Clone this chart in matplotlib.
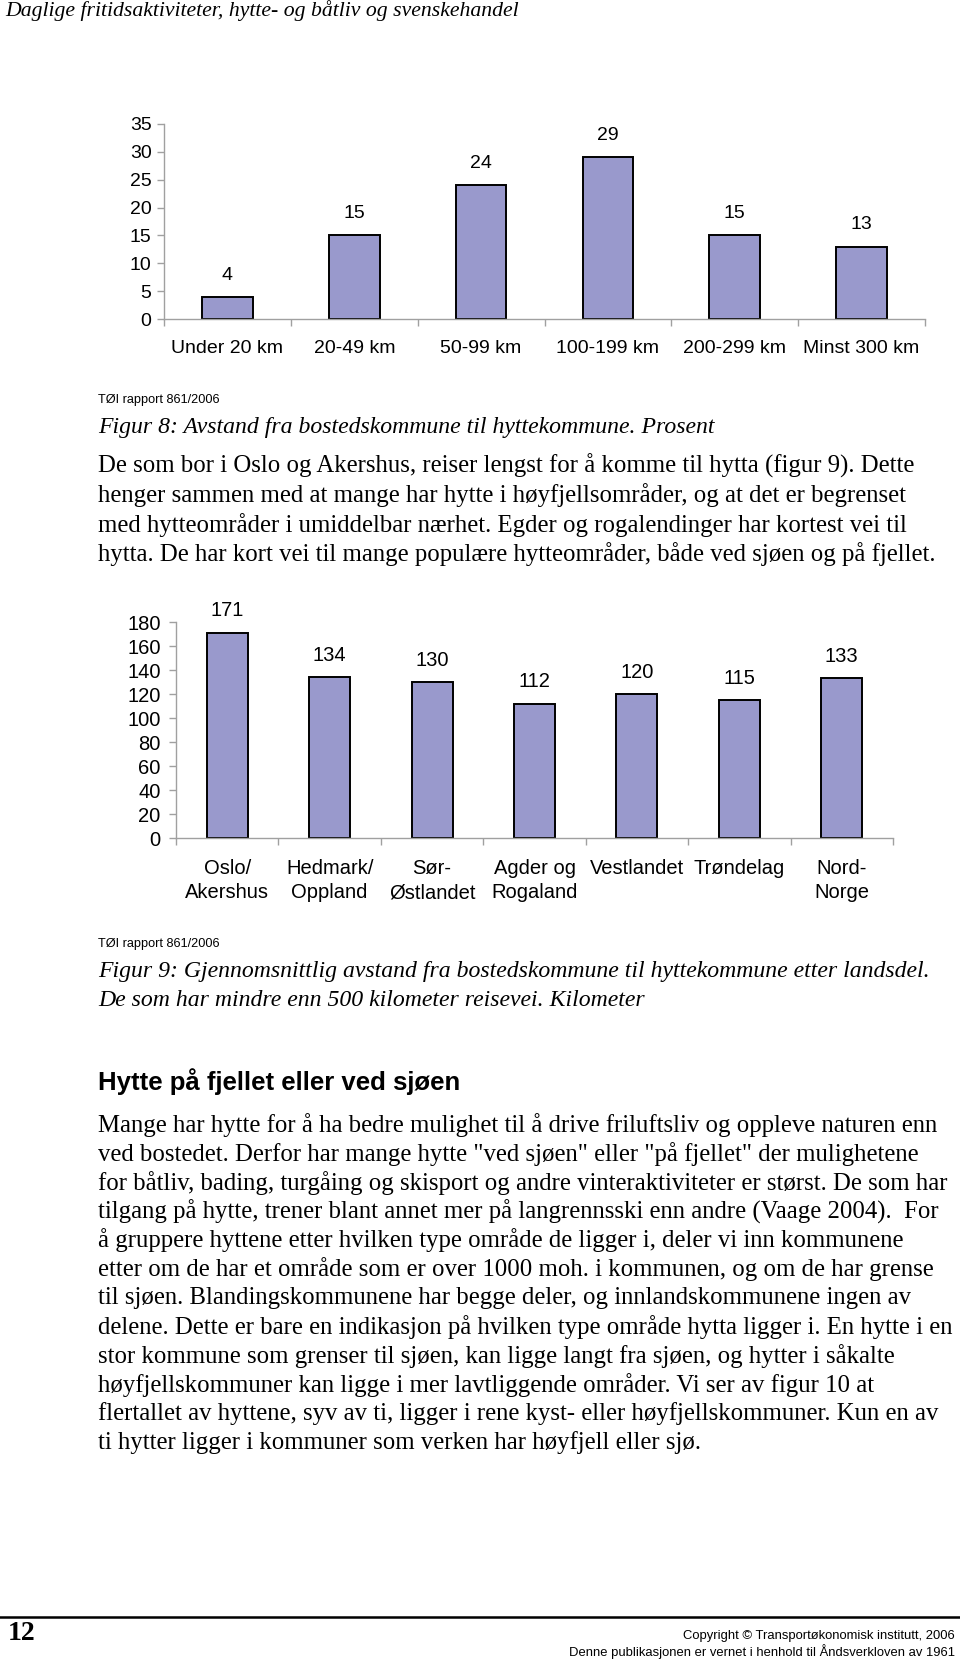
import numpy as np
import matplotlib as mpl
import matplotlib.pyplot as plt
from matplotlib.lines import Line2D

mpl.use('agg')

W, H = 960, 1659

dist_labels = ["Under 20 km", "20-49 km", "50-99 km", "100-199 km", "200-299 km", "Minst 300 km"]
dist_values = [4, 15, 24, 29, 15, 13]

region_labels = ["Oslo/\nAkershus", "Hedmark/\nOppland", "Sør-\nØstlandet", "Agder og\nRogaland",
                 "Vestlandet", "Trøndelag", "Nord-\nNorge"]
region_values = [171, 134, 130, 112, 120, 115, 133]

header = "Daglige fritidsaktiviteter, hytte- og båtliv og svenskehandel"
source = "TØI rapport 861/2006"
fig8_caption = "Figur 8: Avstand fra bostedskommune til hyttekommune. Prosent"
fig9_caption = ["Figur 9: Gjennomsnittlig avstand fra bostedskommune til hyttekommune etter landsdel.",
                "De som har mindre enn 500 kilometer reisevei. Kilometer"]
heading = "Hytte på fjellet eller ved sjøen"

para1 = [
    "De som bor i Oslo og Akershus, reiser lengst for å komme til hytta (figur 9). Dette",
    "henger sammen med at mange har hytte i høyfjellsområder, og at det er begrenset",
    "med hytteområder i umiddelbar nærhet. Egder og rogalendinger har kortest vei til",
    "hytta. De har kort vei til mange populære hytteområder, både ved sjøen og på fjellet.",
]
para2 = [
    "Mange har hytte for å ha bedre mulighet til å drive friluftsliv og oppleve naturen enn",
    'ved bostedet. Derfor har mange hytte "ved sjøen" eller "på fjellet" der mulighetene',
    "for båtliv, bading, turgåing og skisport og andre vinteraktiviteter er størst. De som har",
    "tilgang på hytte, trener blant annet mer på langrennsski enn andre (Vaage 2004).  For",
    "å gruppere hyttene etter hvilken type område de ligger i, deler vi inn kommunene",
    "etter om de har et område som er over 1000 moh. i kommunen, og om de har grense",
    "til sjøen. Blandingskommunene har begge deler, og innlandskommunene ingen av",
    "delene. Dette er bare en indikasjon på hvilken type område hytta ligger i. En hytte i en",
    "stor kommune som grenser til sjøen, kan ligge langt fra sjøen, og hytter i såkalte",
    "høyfjellskommuner kan ligge i mer lavtliggende områder. Vi ser av figur 10 at",
    "flertallet av hyttene, syv av ti, ligger i rene kyst- eller høyfjellskommuner. Kun en av",
    "ti hytter ligger i kommuner som verken har høyfjell eller sjø.",
]
page_no = "12"
copyright_lines = ["Copyright © Transportøkonomisk institutt, 2006",
                   "Denne publikasjonen er vernet i henhold til Åndsverkloven av 1961"]

SANS = ['Liberation Sans', 'DejaVu Sans']
SERIF = ['Liberation Serif', 'DejaVu Serif']
BAR = '#9999cc'
AXC = '#a0a0a0'
BODY = 17.8


def fx(px):
    return px / W


def fy(px):
    return 1 - px / H


def bar_chart(rect, labels, values, ymax, ystep, fs, ypad, padding, xpad, lsp):
    left, top, right, bottom = rect
    ax = fig.add_axes([fx(left), fy(bottom), fx(right - left), (bottom - top) / H])
    x = np.arange(len(values))
    bars = ax.bar(x, values, width=0.4, color=BAR, edgecolor='black', linewidth=1.4)
    ax.bar_label(bars, labels=[str(v) for v in values], padding=padding,
                 fontsize=fs, family=SANS)
    ax.set_xlim(-0.5, len(values) - 0.5)
    ax.set_ylim(0, ymax)
    ax.set_yticks(np.arange(0, ymax + 1, ystep))
    ax.set_xticks(x)
    ax.set_xticklabels(labels, fontsize=fs, family=SANS)
    ax.set_xticks(np.arange(-0.5, len(values), 1), minor=True)
    for lab in ax.get_xticklabels():
        lab.set_linespacing(lsp)
    for lab in ax.get_yticklabels():
        lab.set_fontsize(fs)
        lab.set_family(SANS)
    ax.tick_params(axis='x', which='major', length=0, pad=xpad)
    ax.tick_params(axis='x', which='minor', length=5, width=1, color=AXC, direction='out')
    ax.tick_params(axis='y', length=5, width=1, color=AXC, direction='out', pad=ypad)
    for s in ['top', 'right']:
        ax.spines[s].set_visible(False)
    for s in ['left', 'bottom']:
        ax.spines[s].set_color(AXC)
        ax.spines[s].set_linewidth(1)
    ax.set_facecolor('none')
    return ax


fig = plt.figure(figsize=(W / 100, H / 100), dpi=100)

# page header
fig.text(fx(5), fy(11), header, fontsize=15.7, family=SERIF, style='italic', va='center', ha='left')

# figure 8
bar_chart((164, 124, 925, 319), dist_labels, dist_values, 35, 5, 14, 4, 9.5, 15, 1.3)
fig.text(fx(98), fy(400), source, fontsize=9.2, family=SANS, va='center')
fig.text(fx(98), fy(428), fig8_caption, fontsize=17.1, family=SERIF, style='italic', va='center')
for i, line in enumerate(para1):
    fig.text(fx(98), fy(466 + i * 29.3), line, fontsize=BODY, family=SERIF, va='center')

# figure 9
bar_chart((176, 622, 893, 838), region_labels, region_values, 180, 20, 14.5, 6, 9, 15, 1.35)
fig.text(fx(98), fy(944), source, fontsize=9.2, family=SANS, va='center')
for i, line in enumerate(fig9_caption):
    fig.text(fx(98), fy(972 + i * 28.5), line, fontsize=17.1, family=SERIF, style='italic', va='center')

fig.text(fx(98), fy(1082), heading, fontsize=18.5, family=SANS, weight='bold', va='center')
for i, line in enumerate(para2):
    fig.text(fx(98), fy(1125 + i * 28.85), line, fontsize=BODY, family=SERIF, va='center')

# footer
fig.add_artist(Line2D([0, 1], [fy(1617), fy(1617)], color='black', linewidth=1.8))
fig.text(fx(8), fy(1633), page_no, fontsize=20, family=SERIF, weight='bold', va='center')
fig.text(fx(955), fy(1636), copyright_lines[0], fontsize=9.4, family=SANS, ha='right', va='center')
fig.text(fx(955), fy(1652), copyright_lines[1], fontsize=9.4, family=SANS, ha='right', va='center')

fig.savefig('out.png', dpi=100)
